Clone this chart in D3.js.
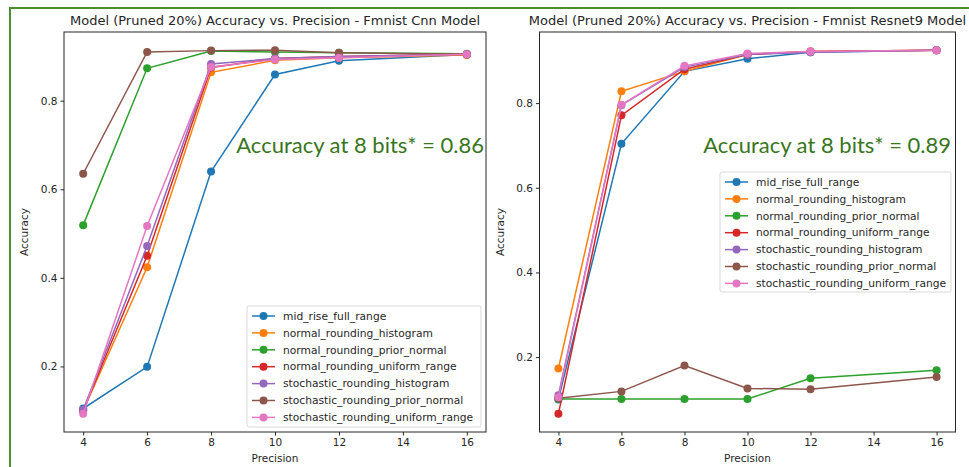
<!DOCTYPE html>
<html>
<head>
<meta charset="utf-8">
<script src="https://cdn.jsdelivr.net/npm/d3@7"></script>
<style>
  body { margin: 0; background: #fff; }
  svg { display: block; }
  .tick text { font-family: "DejaVu Sans", sans-serif; font-size: 10.5px; fill: #262626; }
  .lbl { font-family: "DejaVu Sans", sans-serif; font-size: 10.5px; fill: #262626; }
  .title { font-family: "DejaVu Sans", sans-serif; font-size: 13px; fill: #262626; }
  .legend text { font-family: "DejaVu Sans", sans-serif; font-size: 10.7px; fill: #262626; }
  .note { font-family: Lato, "Open Sans", sans-serif; font-size: 22px; fill: #38761d; }
</style>
</head>
<body>
<svg id="chart" width="969" height="467"></svg>
<script>
const precisions = [4, 6, 8, 10, 12, 16];
const seriesNames = [
  'mid_rise_full_range', 'normal_rounding_histogram', 'normal_rounding_prior_normal',
  'normal_rounding_uniform_range', 'stochastic_rounding_histogram',
  'stochastic_rounding_prior_normal', 'stochastic_rounding_uniform_range'
];
const colors = ['#1f77b4', '#ff7f0e', '#2ca02c', '#d62728', '#9467bd', '#8c564b', '#e377c2'];

// Fmnist Cnn
const cnnMidRise = [0.105, 0.199, 0.640, 0.859, 0.890, 0.904];
const cnnNormHist = [0.100, 0.424, 0.864, 0.891, 0.897, 0.903];
const cnnNormPrior = [0.519, 0.873, 0.912, 0.910, 0.908, 0.906];
const cnnNormUniform = [0.100, 0.450, 0.875, 0.895, 0.900, 0.905];
const cnnStochHist = [0.102, 0.472, 0.883, 0.895, 0.900, 0.905];
const cnnStochPrior = [0.635, 0.910, 0.913, 0.914, 0.908, 0.905];
const cnnStochUniform = [0.093, 0.517, 0.876, 0.893, 0.897, 0.905];

// Fmnist Resnet9
const resMidRise = [0.100, 0.704, 0.875, 0.905, 0.920, 0.925];
const resNormHist = [0.173, 0.828, 0.875, 0.915, 0.922, 0.925];
const resNormPrior = [0.101, 0.101, 0.101, 0.101, 0.150, 0.169];
const resNormUniform = [0.066, 0.771, 0.880, 0.915, 0.922, 0.925];
const resStochHist = [0.110, 0.795, 0.885, 0.915, 0.920, 0.925];
const resStochPrior = [0.103, 0.119, 0.180, 0.126, 0.124, 0.153];
const resStochUniform = [0.105, 0.796, 0.888, 0.917, 0.922, 0.925];

const yTicks = [0.2, 0.4, 0.6, 0.8];
const xTicks = [4, 6, 8, 10, 12, 14, 16];

const panels = [
  {
    title: 'Model (Pruned 20%) Accuracy vs. Precision - Fmnist Cnn Model',
    series: [cnnMidRise, cnnNormHist, cnnNormPrior, cnnNormUniform, cnnStochHist, cnnStochPrior, cnnStochUniform],
    box: { x0: 64, x1: 486, y0: 32, y1: 432 },
    note: 'Accuracy at 8 bits* = 0.86', noteX: 484, noteY: 153,
    legend: { x: 247, y: 306, w: 234, h: 121 },
    ylabX: 28
  },
  {
    title: 'Model (Pruned 20%) Accuracy vs. Precision - Fmnist Resnet9 Model',
    series: [resMidRise, resNormHist, resNormPrior, resNormUniform, resStochHist, resStochPrior, resStochUniform],
    box: { x0: 539.5, x1: 955.5, y0: 32, y1: 432 },
    note: 'Accuracy at 8 bits* = 0.89', noteX: 951, noteY: 153,
    legend: { x: 720, y: 172, w: 231, h: 120 },
    ylabX: 504
  }
];

const svg = d3.select('#chart');

// green frame around the whole figure
svg.append('rect')
  .attr('x', 10).attr('y', 8).attr('width', 1000).attr('height', 500)
  .attr('fill', 'none').attr('stroke', '#4b8f2e').attr('stroke-width', 2);

function drawPanel(p) {
  const all = p.series.flat();
  const [ymin, ymax] = d3.extent(all);
  const ym = (ymax - ymin) * 0.05;
  const x = d3.scaleLinear().domain([3.4, 16.6]).range([p.box.x0, p.box.x1]);
  const y = d3.scaleLinear().domain([ymin - ym, ymax + ym]).range([p.box.y1, p.box.y0]);

  const g = svg.append('g');

  g.append('g')
    .attr('transform', `translate(0,${p.box.y1})`)
    .call(d3.axisBottom(x).tickValues(xTicks).tickFormat(d3.format('d')).tickSize(3.5).tickPadding(3))
    .call(a => a.select('.domain').remove())
    .call(a => a.selectAll('line').attr('stroke', '#262626'));

  g.append('g')
    .attr('transform', `translate(${p.box.x0},0)`)
    .call(d3.axisLeft(y).tickValues(yTicks).tickFormat(d3.format('.1f')).tickSize(3.5).tickPadding(3))
    .call(a => a.select('.domain').remove())
    .call(a => a.selectAll('line').attr('stroke', '#262626'));

  g.append('rect')
    .attr('x', p.box.x0).attr('y', p.box.y0)
    .attr('width', p.box.x1 - p.box.x0).attr('height', p.box.y1 - p.box.y0)
    .attr('fill', 'none').attr('stroke', '#262626').attr('stroke-width', 1);

  const line = d3.line().x((d, i) => x(precisions[i])).y(d => y(d));

  p.series.forEach((vals, si) => {
    const s = g.append('g');
    s.append('path').datum(vals)
      .attr('d', line).attr('fill', 'none')
      .attr('stroke', colors[si]).attr('stroke-width', 1.5);
    s.selectAll('circle').data(vals).join('circle')
      .attr('cx', (d, i) => x(precisions[i])).attr('cy', d => y(d))
      .attr('r', 4).attr('fill', colors[si]);
  });

  g.append('text').attr('class', 'title')
    .attr('x', (p.box.x0 + p.box.x1) / 2).attr('y', 25)
    .attr('text-anchor', 'middle').text(p.title);

  g.append('text').attr('class', 'lbl')
    .attr('x', (p.box.x0 + p.box.x1) / 2).attr('y', 462)
    .attr('text-anchor', 'middle').text('Precision');

  g.append('text').attr('class', 'lbl')
    .attr('transform', `translate(${p.ylabX},${(p.box.y0 + p.box.y1) / 2}) rotate(-90)`)
    .attr('text-anchor', 'middle').text('Accuracy');

  // legend
  const lg = g.append('g').attr('class', 'legend');
  lg.append('rect')
    .attr('x', p.legend.x).attr('y', p.legend.y)
    .attr('width', p.legend.w).attr('height', p.legend.h).attr('rx', 2)
    .attr('fill', '#fff').attr('fill-opacity', 0.8)
    .attr('stroke', '#d9d9d9').attr('stroke-width', 1);
  seriesNames.forEach((name, i) => {
    const cy = p.legend.y + 10 + i * 16.9;
    const hx = p.legend.x + 5;
    lg.append('line')
      .attr('x1', hx).attr('x2', hx + 23).attr('y1', cy).attr('y2', cy)
      .attr('stroke', colors[i]).attr('stroke-width', 1.5);
    lg.append('circle').attr('cx', hx + 11.5).attr('cy', cy).attr('r', 4).attr('fill', colors[i]);
    lg.append('text').attr('x', hx + 31).attr('y', cy).attr('dy', '0.35em').text(name);
  });

  g.append('text').attr('class', 'note')
    .attr('x', p.noteX).attr('y', p.noteY)
    .attr('text-anchor', 'end').text(p.note);
}

panels.forEach(drawPanel);
</script>
</body>
</html>
